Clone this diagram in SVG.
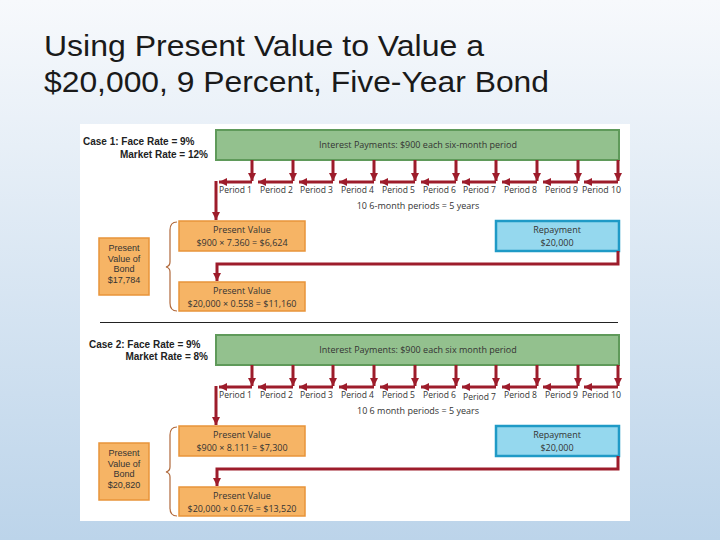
<svg xmlns="http://www.w3.org/2000/svg" width="720" height="540" viewBox="0 0 720 540">
<defs>
<linearGradient id="bg" x1="0" y1="0" x2="0" y2="1">
<stop offset="0" stop-color="#f7f9fc"/>
<stop offset="1" stop-color="#bcd4ea"/>
</linearGradient>
<marker id="ah" markerUnits="userSpaceOnUse" markerWidth="9" markerHeight="8" refX="8" refY="4" orient="auto">
<path d="M0,0 L8,4 L0,8 z" fill="#9d1c2b"/>
</marker>
</defs>
<style>
.title{font-family:"Liberation Sans",sans-serif;font-size:30px;fill:#1a1a1a}
.t{font-family:"Open Sans","Liberation Sans",sans-serif;font-size:9px;fill:#333}
.s{font-family:"Liberation Sans",sans-serif;font-size:9px;fill:#333;text-anchor:middle}
.p{font-family:"Open Sans","Liberation Sans",sans-serif;font-size:9px;fill:#333;text-anchor:start}
.c{text-anchor:middle}
.e{text-anchor:end}
.b{font-family:"Liberation Sans",sans-serif;font-size:10px;font-weight:bold;fill:#222}
.green{fill:#93c18e;stroke:#5f9a5a;stroke-width:2}
.orange{fill:#f6b465;stroke:#e8943a;stroke-width:1.5}
.blue{fill:#95d8ee;stroke:#1f9ac6;stroke-width:2.5}
.ln{fill:none;stroke:#9d1c2b;stroke-width:3}
.brace{fill:none;stroke:#b0683a;stroke-width:1.2}
</style>
<rect x="0" y="0" width="720" height="540" fill="url(#bg)"/>
<g id="title">
<text class="title" x="44" y="56" textLength="440" lengthAdjust="spacingAndGlyphs">Using Present Value to Value a</text>
<text class="title" x="44" y="92" textLength="505" lengthAdjust="spacingAndGlyphs">$20,000, 9 Percent, Five-Year Bond</text>
</g>
<rect x="80" y="124" width="550" height="397" fill="#ffffff"/>

<g id="case1">
<g id="c1-label">
<text class="b" x="83" y="145">Case 1: Face Rate = 9%</text>
<text class="b e" x="208" y="158">Market Rate = 12%</text>
</g>
<g id="c1-interest">
<rect class="green" x="216" y="130" width="403" height="30"/>
<text class="t c" x="418" y="148">Interest Payments: $900 each six-month period</text>
</g>
<g id="c1-periods">
<text class="p" x="219" y="193" textLength="33" lengthAdjust="spacingAndGlyphs">Period 1</text>
<text class="p" x="260" y="193" textLength="33" lengthAdjust="spacingAndGlyphs">Period 2</text>
<text class="p" x="300" y="193" textLength="33" lengthAdjust="spacingAndGlyphs">Period 3</text>
<text class="p" x="341" y="193" textLength="33" lengthAdjust="spacingAndGlyphs">Period 4</text>
<text class="p" x="382" y="193" textLength="33" lengthAdjust="spacingAndGlyphs">Period 5</text>
<text class="p" x="423" y="193" textLength="33" lengthAdjust="spacingAndGlyphs">Period 6</text>
<text class="p" x="463" y="193" textLength="33" lengthAdjust="spacingAndGlyphs">Period 7</text>
<text class="p" x="504" y="193" textLength="33" lengthAdjust="spacingAndGlyphs">Period 8</text>
<text class="p" x="545" y="193" textLength="33" lengthAdjust="spacingAndGlyphs">Period 9</text>
<text class="p" x="582" y="193" textLength="39" lengthAdjust="spacingAndGlyphs">Period 10</text>
<text class="t c" x="418" y="209">10 6-month periods = 5 years</text>
</g>
<g id="c1-pv-interest">
<rect class="orange" x="179" y="221" width="126" height="30"/>
<text class="t c" x="242" y="233">Present Value</text>
<text class="t c" x="242" y="246">$900 × 7.360 = $6,624</text>
</g>
<g id="c1-pv-principal">
<rect class="orange" x="179" y="282" width="126" height="29"/>
<text class="t c" x="242" y="293.5">Present Value</text>
<text class="t c" x="242" y="306.5">$20,000 × 0.558 = $11,160</text>
</g>
<g id="c1-bond">
<rect class="orange" x="99" y="238" width="50" height="57"/>
<text class="s" x="124" y="251">Present</text>
<text class="s" x="124" y="261.5">Value of</text>
<text class="s" x="124" y="272">Bond</text>
<text class="s" x="124" y="282.5">$17,784</text>
</g>
<g id="c1-repayment">
<rect class="blue" x="496" y="221" width="123" height="30"/>
<text class="t c" x="557" y="233">Repayment</text>
<text class="t c" x="557" y="246">$20,000</text>
</g>
<path class="brace" d="M177,222 Q170,222 170,230 L170,262 Q170,266 166,267 Q170,268 170,272 L170,303 Q170,311 177,311"/>
</g>

<g id="c1-connectors">
<line class="ln" x1="252" y1="160" x2="252" y2="181" marker-end="url(#ah)"/>
<line class="ln" x1="293" y1="160" x2="293" y2="181" marker-end="url(#ah)"/>
<line class="ln" x1="333" y1="160" x2="333" y2="181" marker-end="url(#ah)"/>
<line class="ln" x1="374" y1="160" x2="374" y2="181" marker-end="url(#ah)"/>
<line class="ln" x1="415" y1="160" x2="415" y2="181" marker-end="url(#ah)"/>
<line class="ln" x1="456" y1="160" x2="456" y2="181" marker-end="url(#ah)"/>
<line class="ln" x1="496" y1="160" x2="496" y2="181" marker-end="url(#ah)"/>
<line class="ln" x1="537" y1="160" x2="537" y2="181" marker-end="url(#ah)"/>
<line class="ln" x1="578" y1="160" x2="578" y2="181" marker-end="url(#ah)"/>
<line class="ln" x1="618" y1="160" x2="618" y2="181" marker-end="url(#ah)"/>
<line class="ln" x1="252" y1="182" x2="219" y2="182" marker-end="url(#ah)"/>
<line class="ln" x1="293" y1="182" x2="258" y2="182" marker-end="url(#ah)"/>
<line class="ln" x1="333" y1="182" x2="299" y2="182" marker-end="url(#ah)"/>
<line class="ln" x1="374" y1="182" x2="339" y2="182" marker-end="url(#ah)"/>
<line class="ln" x1="415" y1="182" x2="380" y2="182" marker-end="url(#ah)"/>
<line class="ln" x1="456" y1="182" x2="421" y2="182" marker-end="url(#ah)"/>
<line class="ln" x1="496" y1="182" x2="462" y2="182" marker-end="url(#ah)"/>
<line class="ln" x1="537" y1="182" x2="502" y2="182" marker-end="url(#ah)"/>
<line class="ln" x1="578" y1="182" x2="543" y2="182" marker-end="url(#ah)"/>
<line class="ln" x1="618" y1="182" x2="584" y2="182" marker-end="url(#ah)"/>
<path class="ln" d="M216,181 L216,220" marker-end="url(#ah)"/>
<path class="ln" d="M618,251 L618,264 L217,264 L217,281" marker-end="url(#ah)"/>
</g>

<line id="separator" x1="100" y1="322.5" x2="618" y2="322.5" stroke="#222" stroke-width="1"/>

<g id="case2">
<g id="c2-label">
<text class="b" x="89" y="348">Case 2:  Face Rate = 9%</text>
<text class="b e" x="208" y="360">Market Rate = 8%</text>
</g>
<g id="c2-interest">
<rect class="green" x="216" y="335" width="403" height="30"/>
<text class="t c" x="418" y="353">Interest Payments: $900 each six month period</text>
</g>
<g id="c2-periods">
<text class="p" x="219" y="398" textLength="33" lengthAdjust="spacingAndGlyphs">Period 1</text>
<text class="p" x="260" y="398" textLength="33" lengthAdjust="spacingAndGlyphs">Period 2</text>
<text class="p" x="300" y="398" textLength="33" lengthAdjust="spacingAndGlyphs">Period 3</text>
<text class="p" x="341" y="398" textLength="33" lengthAdjust="spacingAndGlyphs">Period 4</text>
<text class="p" x="382" y="398" textLength="33" lengthAdjust="spacingAndGlyphs">Period 5</text>
<text class="p" x="423" y="398" textLength="33" lengthAdjust="spacingAndGlyphs">Period 6</text>
<text class="p" x="463" y="400" textLength="33" lengthAdjust="spacingAndGlyphs">Period 7</text>
<text class="p" x="504" y="398" textLength="33" lengthAdjust="spacingAndGlyphs">Period 8</text>
<text class="p" x="545" y="398" textLength="33" lengthAdjust="spacingAndGlyphs">Period 9</text>
<text class="p" x="582" y="398" textLength="39" lengthAdjust="spacingAndGlyphs">Period 10</text>
<text class="t c" x="418" y="414">10 6 month periods = 5 years</text>
</g>
<g id="c2-pv-interest">
<rect class="orange" x="179" y="426" width="126" height="30"/>
<text class="t c" x="242" y="438">Present Value</text>
<text class="t c" x="242" y="451">$900 × 8.111 = $7,300</text>
</g>
<g id="c2-pv-principal">
<rect class="orange" x="179" y="487" width="126" height="29"/>
<text class="t c" x="242" y="498.5">Present Value</text>
<text class="t c" x="242" y="511.5">$20,000 × 0.676 = $13,520</text>
</g>
<g id="c2-bond">
<rect class="orange" x="99" y="443" width="50" height="57"/>
<text class="s" x="124" y="456">Present</text>
<text class="s" x="124" y="466.5">Value of</text>
<text class="s" x="124" y="477">Bond</text>
<text class="s" x="124" y="487.5">$20,820</text>
</g>
<g id="c2-repayment">
<rect class="blue" x="496" y="426" width="123" height="30"/>
<text class="t c" x="557" y="438">Repayment</text>
<text class="t c" x="557" y="451">$20,000</text>
</g>
<path class="brace" d="M177,427 Q170,427 170,435 L170,467 Q170,471 166,472 Q170,473 170,477 L170,508 Q170,516 177,516"/>
</g>

<g id="c2-connectors">
<line class="ln" x1="252" y1="365" x2="252" y2="386" marker-end="url(#ah)"/>
<line class="ln" x1="293" y1="365" x2="293" y2="386" marker-end="url(#ah)"/>
<line class="ln" x1="333" y1="365" x2="333" y2="386" marker-end="url(#ah)"/>
<line class="ln" x1="374" y1="365" x2="374" y2="386" marker-end="url(#ah)"/>
<line class="ln" x1="415" y1="365" x2="415" y2="386" marker-end="url(#ah)"/>
<line class="ln" x1="456" y1="365" x2="456" y2="386" marker-end="url(#ah)"/>
<line class="ln" x1="496" y1="365" x2="496" y2="386" marker-end="url(#ah)"/>
<line class="ln" x1="537" y1="365" x2="537" y2="386" marker-end="url(#ah)"/>
<line class="ln" x1="578" y1="365" x2="578" y2="386" marker-end="url(#ah)"/>
<line class="ln" x1="618" y1="365" x2="618" y2="386" marker-end="url(#ah)"/>
<line class="ln" x1="252" y1="387" x2="219" y2="387" marker-end="url(#ah)"/>
<line class="ln" x1="293" y1="387" x2="258" y2="387" marker-end="url(#ah)"/>
<line class="ln" x1="333" y1="387" x2="299" y2="387" marker-end="url(#ah)"/>
<line class="ln" x1="374" y1="387" x2="339" y2="387" marker-end="url(#ah)"/>
<line class="ln" x1="415" y1="387" x2="380" y2="387" marker-end="url(#ah)"/>
<line class="ln" x1="456" y1="387" x2="421" y2="387" marker-end="url(#ah)"/>
<line class="ln" x1="496" y1="387" x2="462" y2="387" marker-end="url(#ah)"/>
<line class="ln" x1="537" y1="387" x2="502" y2="387" marker-end="url(#ah)"/>
<line class="ln" x1="578" y1="387" x2="543" y2="387" marker-end="url(#ah)"/>
<line class="ln" x1="618" y1="387" x2="584" y2="387" marker-end="url(#ah)"/>
<path class="ln" d="M216,386 L216,425" marker-end="url(#ah)"/>
<path class="ln" d="M618,456 L618,469 L217,469 L217,486" marker-end="url(#ah)"/>
</g>
</svg>
